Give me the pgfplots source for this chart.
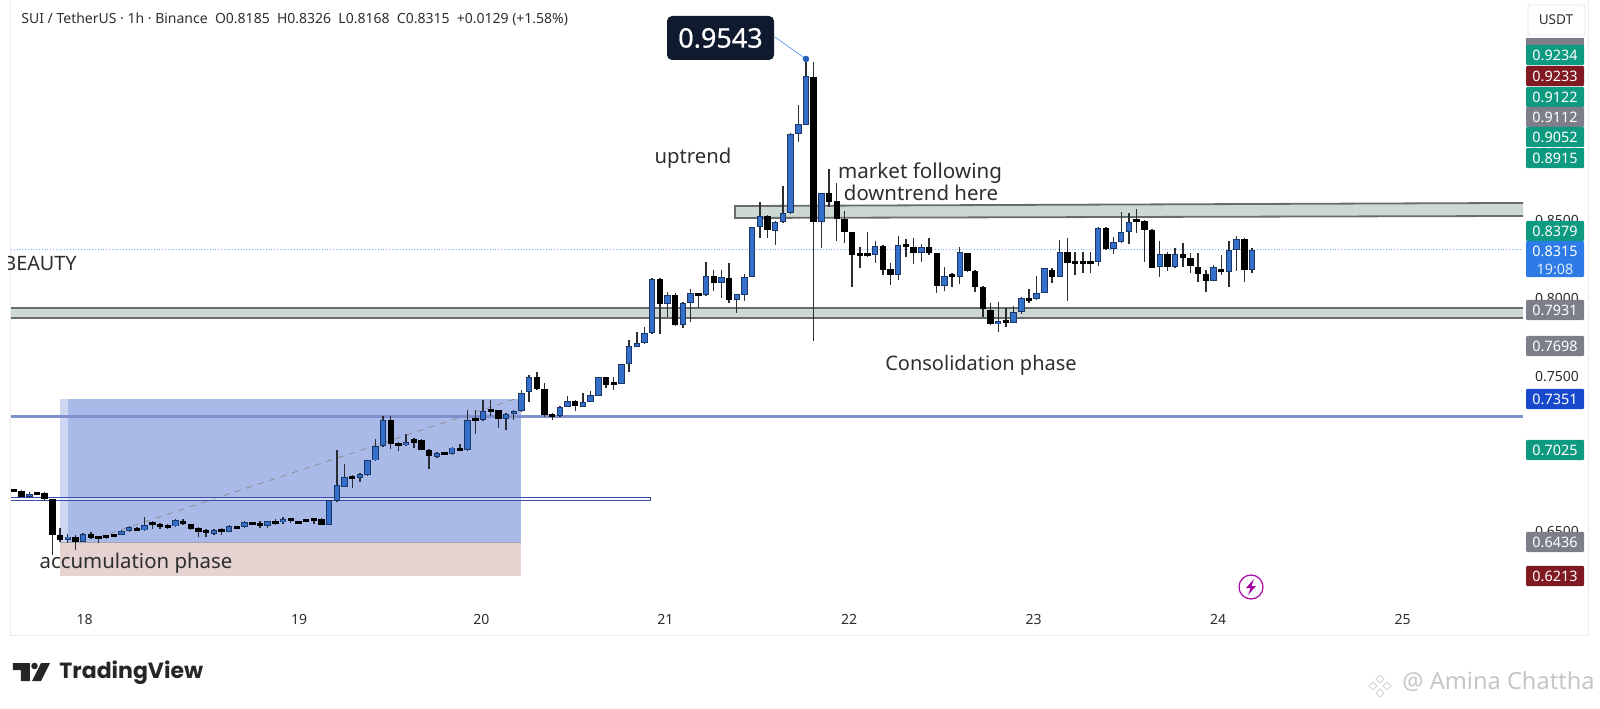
\documentclass[border=0pt]{standalone}
\usepackage{pgfplots}
\usepackage{pgfplotstable}
\usepackage{fontspec}
\setmainfont{Noto Sans}
\newfontfamily\tvfont{Poppins}
\newfontfamily\boldnum[FakeBold=0.7]{Noto Sans}
\pgfplotsset{compat=1.18}
\definecolor{bodyblue}{HTML}{3470C9}
\definecolor{edgeblue}{HTML}{1B3768}
\definecolor{wick}{HTML}{2A2D33}
\definecolor{bandfill}{HTML}{CDD8D4}
\definecolor{bandline}{HTML}{686C6B}
\definecolor{rectblue}{HTML}{A9BAE9}
\definecolor{stripblue}{HTML}{CDD6F2}
\definecolor{rectpink}{HTML}{E6D2D0}
\definecolor{lineblue}{HTML}{7F90CC}
\definecolor{hollow}{HTML}{3A50A8}
\definecolor{bgreen}{HTML}{0E9A80}
\definecolor{bred}{HTML}{801922}
\definecolor{bgray}{HTML}{7C7E8A}
\definecolor{bblue}{HTML}{2E7BE8}
\definecolor{bdark}{HTML}{1848CC}
\definecolor{navy}{HTML}{0F1A2E}
\definecolor{txt}{HTML}{2E2E2E}
% n open high low close
\pgfplotstableread{
n o h l c
-3 .6723 .6752 .6715 .6742
2 .6444 .6485 .6427 .6468
4 .6435 .6490 .6430 .6485
9 .6479 .6508 .6475 .6503
10 .6501 .6535 .6497 .6527
12 .6507 .6594 .6505 .6540
16 .6533 .6578 .6530 .6573
21 .6485 .6515 .6480 .6509
23 .6498 .6540 .6495 .6536
25 .6527 .6567 .6524 .6564
28 .6538 .6570 .6525 .6566
30 .6566 .6594 .6551 .6575
36 .6544 .6705 .6540 .6701
37 .6697 .7025 .6692 .6797
38 .6788 .6932 .6785 .6853
40 .6845 .6875 .6819 .6869
41 .6862 .6962 .6855 .6958
42 .6958 .7095 .6955 .7052
43 .7049 .7247 .7045 .7219
46 .7056 .7128 .7052 .7075
50 .6980 .7012 .6975 .7008
52 .6997 .7047 .6993 .7041
54 .7023 .7280 .7020 .7219
56 .7219 .7350 .7210 .7276
59 .7226 .7262 .7156 .7258
60 .7258 .7282 .7219 .7276
61 .7276 .7410 .7270 .7393
62 .7397 .7508 .7337 .7493
66 .7246 .7310 .7240 .7304
67 .7304 .7373 .7300 .7343
69 .7304 .7390 .7300 .7337
70 .7337 .7407 .7335 .7380
71 .7375 .7497 .7370 .7493
74 .7450 .7582 .7447 .7579
75 .7577 .7734 .7530 .7697
76 .7691 .7787 .7688 .7714
77 .7712 .7820 .7709 .7777
78 .7777 .8135 .7775 .8124
80 .7963 .8045 .7884 .8021
82 .7830 .7975 .7809 .7970
83 .7970 .8060 .7852 .8034
85 .8021 .8234 .8018 .8146
87 .8103 .8184 .8002 .8137
89 .7991 .8032 .7905 .8028
90 .8021 .8159 .7987 .8141
91 .8141 .8462 .8138 .8459
92 .8463 .8624 .8388 .8534
94 .8438 .8500 .8345 .8495
95 .8493 .8725 .8485 .8549
96 .8549 .9065 .8545 .9060
97 .9058 .9247 .9011 .9122
98 .9120 .9543 .9115 .9433
100 .8495 .8683 .8324 .8678
107 .8281 .8373 .8227 .8341
110 .8152 .8405 .8120 .8345
113 .8292 .8352 .8238 .8330
116 .8083 .8206 .8051 .8148
118 .8141 .8330 .8094 .8302
123 .7835 .7980 .7787 .7852
125 .7845 .7953 .7840 .7916
126 .7916 .8013 .7901 .8002
128 .7997 .8148 .7990 .8034
129 .8038 .8200 .8035 .8195
131 .8141 .8377 .8137 .8300
136 .8238 .8460 .8210 .8455
138 .8319 .8399 .8285 .8362
139 .8362 .8560 .8358 .8427
140 .8427 .8553 .8349 .8493
144 .8201 .8373 .8141 .8285
146 .8201 .8324 .8197 .8285
151 .8116 .8216 .8112 .8201
153 .8174 .8373 .8077 .8313
154 .8313 .8403 .8178 .8382
156 .8185 .8326 .8168 .8315
}\upcandles
\pgfplotstableread{
n o h l c
-5 .6764 .6768 .6757 .6760
-4 .6762 .6768 .6720 .6725
-2 .6745 .6755 .6735 .6747
-1 .6747 .6752 .6700 .6708
0 .6710 .6712 .6348 .6479
1 .6477 .6525 .6435 .6448
3 .6468 .6479 .6381 .6435
5 .6483 .6495 .6450 .6457
6 .6464 .6468 .6427 .6462
7 .6466 .6472 .6450 .6468
8 .6473 .6478 .6470 .6475
11 .6525 .6530 .6503 .6507
13 .6549 .6566 .6518 .6551
14 .6536 .6555 .6518 .6538
15 .6534 .6550 .6518 .6536
17 .6570 .6581 .6542 .6546
18 .6546 .6550 .6513 .6518
19 .6520 .6529 .6464 .6498
20 .6498 .6518 .6464 .6500
22 .6506 .6522 .6475 .6508
24 .6527 .6533 .6525 .6531
26 .6559 .6564 .6542 .6546
27 .6546 .6566 .6525 .6548
29 .6560 .6581 .6544 .6562
31 .6574 .6588 .6557 .6576
32 .6562 .6567 .6549 .6560
33 .6569 .6575 .6565 .6571
34 .6575 .6590 .6551 .6575
35 .6579 .6588 .6540 .6544
39 .6850 .6866 .6779 .6852
44 .7219 .7241 .7034 .7067
45 .7073 .7078 .7019 .7054
47 .7088 .7102 .7041 .7078
48 .7088 .7095 .7024 .7028
49 .7025 .7030 .6903 .6988
51 .7000 .7006 .6990 .7002
53 .7038 .7062 .7017 .7021
55 .7219 .7280 .7128 .7221
57 .7277 .7345 .7241 .7279
58 .7280 .7285 .7167 .7226
63 .7493 .7530 .7412 .7416
64 .7416 .7455 .7240 .7251
65 .7244 .7262 .7219 .7246
68 .7343 .7350 .7279 .7309
72 .7493 .7497 .7422 .7444
73 .7450 .7498 .7412 .7452
79 .8124 .8135 .7770 .7965
81 .8021 .8034 .7825 .7830
84 .8034 .8037 .7938 .8021
86 .8146 .8184 .8051 .8103
88 .8135 .8227 .7970 .7991
93 .8534 .8538 .8388 .8442
99 .9425 .9521 .7729 .8495
101 .8678 .8832 .8592 .8624
102 .8626 .8742 .8373 .8513
103 .8513 .8566 .8360 .8427
104 .8427 .8430 .8077 .8279
105 .8281 .8335 .8195 .8283
106 .8285 .8427 .8270 .8287
108 .8341 .8345 .8152 .8184
109 .8189 .8227 .8088 .8152
111 .8341 .8384 .8266 .8345
112 .8335 .8392 .8223 .8292
114 .8330 .8388 .8281 .8292
115 .8292 .8296 .8038 .8083
117 .8147 .8163 .8077 .8150
119 .8292 .8296 .8170 .8180
120 .8180 .8185 .8045 .8077
121 .8077 .8082 .7884 .7933
122 .7927 .7970 .7830 .7835
124 .7851 .7937 .7815 .7853
127 .7995 .8062 .7970 .7997
130 .8184 .8195 .8098 .8137
132 .8300 .8388 .7987 .8227
133 .8233 .8298 .8152 .8235
134 .8229 .8298 .8167 .8231
135 .8230 .8302 .8167 .8236
137 .8455 .8460 .8315 .8319
141 .8500 .8577 .8420 .8502
142 .8502 .8506 .8238 .8442
143 .8442 .8446 .8195 .8199
145 .8285 .8302 .8178 .8201
147 .8285 .8360 .8201 .8259
148 .8259 .8292 .8167 .8210
149 .8206 .8296 .8109 .8159
150 .8159 .8184 .8045 .8116
152 .8193 .8281 .8152 .8174
155 .8382 .8388 .8109 .8184
}\downcandles
\newcommand\wicks[1]{\addplot[draw=none,mark=none,forget plot,
  error bars/.cd,y dir=both,y explicit,error mark=none,
  error bar style={draw=wick,line width=0.7pt,solid}]
  table[x=n,y expr={(\thisrow{h}+\thisrow{l})/2},y error expr={(\thisrow{h}-\thisrow{l})/2}]{#1};}
\newcommand\bodies[3]{\addplot[draw=none,mark=none,forget plot,
  error bars/.cd,y dir=both,y explicit,error mark=none,
  error bar style={draw=#2,line width=#3,solid}]
  table[x=n,y expr={(\thisrow{o}+\thisrow{c})/2},y error expr={max(abs(\thisrow{o}-\thisrow{c})/2,0.001)}]{#1};}
\newcommand\badge[3]{\node[fill=#1,text=white,minimum width=29pt,minimum height=10.2pt,inner sep=0pt,rounded corners=0.6pt,font=\fontsize{7.2}{8}\selectfont] at (1555,#2) {#3};}
\begin{document}
\begin{tikzpicture}
\path[use as bounding box] (-5.5pt,-53pt) rectangle ++(800pt,354pt);
\begin{axis}[at={(0,0)},anchor=south west,scale only axis,width=756pt,height=301pt,
  xmin=-5.38,xmax=191.24,ymin=0.60464,ymax=0.99227,
  axis line style={draw=none},tick style={draw=none},major tick length=0pt,
  xtick={4.2,32.1,55.8,79.7,103.6,127.6,151.6,175.6},
  xticklabels={18,19,20,21,22,23,24,25},
  xticklabel style={font=\fontsize{7}{8}\selectfont,text=txt,anchor=center,yshift=-8.5pt},
  ytick={0.65,0.75,0.8,0.85},
  yticklabel pos=right,
  yticklabel style={font=\fontsize{7}{8}\selectfont,text=txt,anchor=center,xshift=17pt,
    /pgf/number format/.cd,fixed,fixed zerofill,precision=4,assume math mode=true},
  clip=true]
% zones
\addplot[fill=stripblue,draw=none,forget plot] coordinates {(0.99,.7351)(2.03,.7351)(2.03,.6436)(0.99,.6436)} -- cycle;
\addplot[fill=rectblue,draw=none,forget plot] coordinates {(2.03,.7351)(61,.7351)(61,.6436)(2.03,.6436)} -- cycle;
\addplot[fill=rectpink,draw=none,forget plot] coordinates {(0.99,.6436)(61,.6436)(61,.6213)(0.99,.6213)} -- cycle;
\addplot[draw=bgray!70,line width=0.5pt,forget plot] coordinates {(0.99,.6430)(61,.6430)};
\addplot[draw=gray!90,dashed,line width=0.4pt,forget plot] coordinates {(6,.6464)(61,.7367)};
% current price
\addplot[draw=bblue!60,densely dotted,line width=0.4pt,forget plot] coordinates {(-5.38,.8315)(191.24,.8315)};
% bands
\addplot[fill=bandfill,draw=none,forget plot] coordinates {(-5.38,.7942)(191.24,.7942)(191.24,.7876)(-5.38,.7876)} -- cycle;
\addplot[draw=bandline,line width=1pt,forget plot] coordinates {(-5.38,.7942)(191.24,.7942)};
\addplot[draw=bandline,line width=1pt,forget plot] coordinates {(-5.38,.7876)(191.24,.7876)};
\addplot[fill=bandfill,draw=none,forget plot] coordinates {(88.76,.8596)(191.24,.8616)(191.24,.8532)(88.76,.8519)} -- cycle;
\addplot[draw=bandline,line width=0.9pt,forget plot] coordinates {(191.24,.8616)(88.76,.8596)(88.76,.8519)(191.24,.8532)};
% lines
\addplot[draw=lineblue,line width=1.3pt,forget plot] coordinates {(-5.38,.7240)(191.24,.7240)};
\addplot[fill=white,fill opacity=0.45,draw=hollow,line width=0.5pt,forget plot] coordinates {(-5.38,.6721)(77.84,.6721)(77.84,.6701)(-5.38,.6701)} -- cycle;
% candles
\wicks{\upcandles}
\wicks{\downcandles}
\bodies{\upcandles}{edgeblue}{3.2pt}
\bodies{\downcandles}{black}{3.2pt}
\addplot[draw=none,mark=none,forget plot,error bars/.cd,y dir=both,y explicit,error mark=none,
  error bar style={draw=bodyblue,line width=2.2pt,solid}]
  table[x=n,y expr={(\thisrow{o}+\thisrow{c})/2},y error expr={max(abs(\thisrow{o}-\thisrow{c})/2-0.0006,0.0003)}]{\upcandles};
% callout
\addplot[draw=bblue!70,line width=0.4pt,forget plot] coordinates {(93.96,.9684)(98,.9543)};
\addplot[only marks,mark=*,mark size=1.4pt,mark options={fill=bblue!80!black,draw=bblue!80!black},forget plot] coordinates {(98,.9543)};
\end{axis}
\begin{scope}[x=0.5pt,y=-0.5pt,shift={(-5.5pt,301pt)}]
% frame
\draw[gray!15,line width=0.5pt] (11,0) -- (11,635) -- (1588,635) -- (1588,0);
% texts in the chart
\node[anchor=west,text=txt,font=\fontsize{7}{8}\selectfont,inner sep=0pt] at (21,19) {SUI / TetherUS · 1h · Binance\ \ O0.8185\ \ H0.8326\ \ L0.8168\ \ C0.8315\ \ +0.0129 (+1.58\%)};
\begin{scope}
\clip (9,240) rectangle (120,285);
\node[anchor=west,text=txt,font=\fontsize{9.9}{10}\selectfont,inner sep=0pt] at (3,263) {BEAUTY};
\end{scope}
\node[text=txt,font=\fontsize{10.15}{10}\selectfont,inner sep=0pt] at (693,158.5) {uptrend};
\node[text=txt,font=\fontsize{10.3}{10}\selectfont,inner sep=0pt] at (920,173) {market following};
\node[text=txt,font=\fontsize{10.2}{10}\selectfont,inner sep=0pt] at (921,193) {downtrend here};
\node[text=txt,font=\fontsize{10}{10}\selectfont,inner sep=0pt] at (981,365) {Consolidation phase};
\node[text=txt,font=\fontsize{10.2}{10}\selectfont,inner sep=0pt] at (136,563) {accumulation phase};
% price callout
\fill[navy,rounded corners=2.5pt] (667,16) rectangle (774,60);
\node[text=white,font=\boldnum\fontsize{13.5}{14}\selectfont,inner sep=0pt] at (720.5,38) {0.9543};
% lightning
\draw[violet!70!magenta,line width=0.6pt] (1251,587) circle[radius=12];
\fill[violet!70!magenta] (1254,579) -- (1246,588) -- (1250.5,588) -- (1248,595) -- (1256,586) -- (1251.5,586) -- cycle;
% price scale
\draw[gray!20,line width=0.4pt,rounded corners=1pt,fill=white] (1528,5) rectangle (1585,35);
\node[text=txt,font=\fontsize{6.8}{8}\selectfont,inner sep=0pt] at (1556,20) {USDT};
\fill[bgray] (1526,38) rectangle (1584,46);
\badge{bgreen}{55}{0.9234}
\badge{bred}{76}{0.9233}
\badge{bgreen}{97}{0.9122}
\badge{bgray}{117}{0.9112}
\badge{bgreen}{137}{0.9052}
\badge{bgreen}{158}{0.8915}
\draw[white,densely dashed,line width=0.4pt] (1526,147) -- (1584,147);
\badge{bgreen}{231}{0.8379}
\fill[bblue,rounded corners=0.6pt] (1526,241) rectangle (1584,277);
\node[text=white,font=\fontsize{7.2}{8}\selectfont,inner sep=0pt] at (1555,251) {0.8315};
\node[text=white!85!bblue,font=\fontsize{7.2}{8}\selectfont,inner sep=0pt] at (1555,269) {19:08};
\badge{bgray}{310}{0.7931}
\badge{bgray}{346}{0.7698}
\badge{bdark}{399}{0.7351}
\badge{bgreen}{450}{0.7025}
\badge{bgray}{542}{0.6436}
\badge{bred}{576}{0.6213}
% TradingView logo
\fill[black!85] (13,663) -- (30,663) -- (30,681) -- (21,681) -- (21,670) -- (13,670) -- cycle;
\fill[black!85] (34.5,666) circle[radius=3.3];
\fill[black!85] (41,663) -- (50,663) -- (41,681) -- (32,681) -- cycle;
\node[anchor=west,text=black!85,font=\tvfont\fontsize{11}{14}\selectfont\bfseries,inner sep=0pt] at (59,673) {TradingView};
% watermark
\foreach \dx/\dy in {0/-7,-7/0,7/0,0/7}
  \draw[gray!35,line width=0.5pt] (1380+\dx,682+\dy) -- ++(4,4) -- ++(-4,4) -- ++(-4,-4) -- cycle;
\node[anchor=east,text=gray!45,font=\fontsize{11.8}{12}\selectfont,inner sep=0pt] at (1595,682) {@ Amina Chattha};
\end{scope}
\end{tikzpicture}
\end{document}
